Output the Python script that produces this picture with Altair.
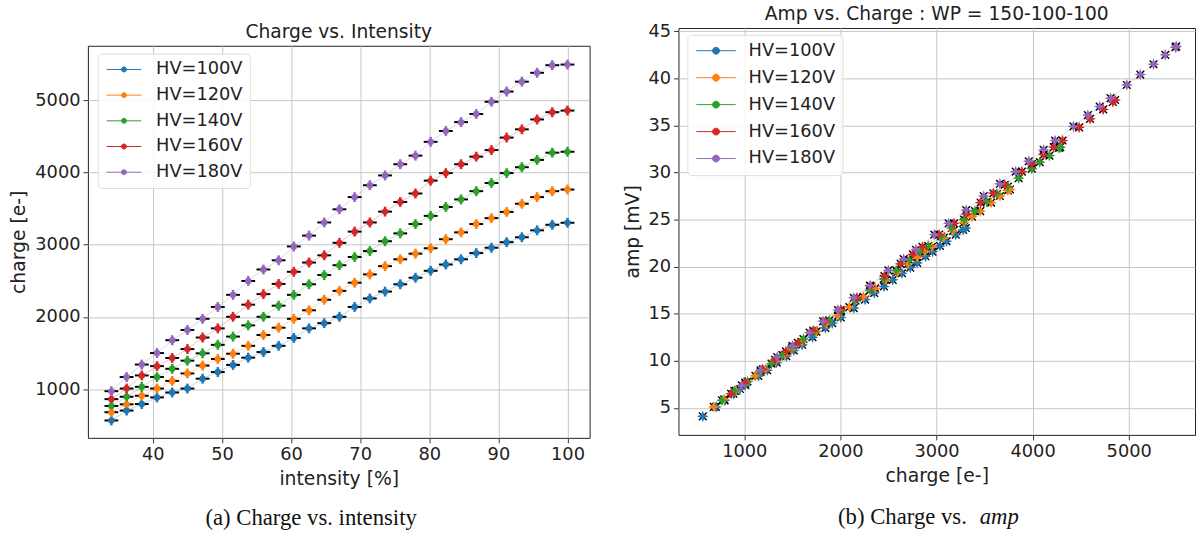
import altair as alt
import pandas as pd

series = ["HV=100V", "HV=120V", "HV=140V", "HV=160V", "HV=180V"]
colors = ["#1f77b4", "#ff7f0e", "#2ca02c", "#d62728", "#9467bd"]

intensity = [34.0, 36.2, 38.4, 40.6, 42.8, 45.0, 47.2, 49.4, 51.6, 53.8, 56.0,
             58.2, 60.4, 62.6, 64.8, 67.0, 69.2, 71.4, 73.6, 75.8, 78.0, 80.2,
             82.4, 84.6, 86.8, 89.0, 91.2, 93.4, 95.6, 97.8, 100.0]

charge_100 = [568, 705, 795, 887, 955, 1010, 1146, 1238, 1337, 1437, 1515, 1601,
              1710, 1843, 1915, 2003, 2139, 2257, 2352, 2453, 2544, 2640, 2727,
              2799, 2885, 2959, 3036, 3104, 3200, 3277, 3305]
charge_120 = [682, 791, 910, 1010, 1115, 1219, 1328, 1419, 1492, 1601, 1751, 1852,
              1975, 2093, 2239, 2362, 2475, 2590, 2704, 2799, 2877, 2952, 3077,
              3172, 3287, 3369, 3455, 3568, 3660, 3742, 3765]
charge_140 = [768, 896, 1033, 1169, 1283, 1396, 1497, 1615, 1729, 1884, 2003, 2157,
              2307, 2453, 2581, 2717, 2831, 2913, 3049, 3158, 3287, 3400, 3523,
              3628, 3742, 3855, 3992, 4074, 4175, 4275, 4288]
charge_160 = [863, 1010, 1191, 1320, 1433, 1556, 1716, 1843, 2003, 2171, 2317, 2458,
              2626, 2754, 2854, 3027, 3182, 3309, 3459, 3592, 3710, 3888, 3992,
              4115, 4220, 4311, 4484, 4598, 4735, 4835, 4858]
charge_180 = [973, 1169, 1342, 1501, 1679, 1820, 1975, 2139, 2307, 2499, 2658, 2785,
              2977, 3127, 3309, 3491, 3660, 3824, 3960, 4115, 4234, 4425, 4575,
              4698, 4811, 4980, 5121, 5258, 5381, 5486, 5495]

amp_100 = [4.1, 5.1, 5.8, 6.5, 7.0, 7.4, 8.4, 9.0, 9.8, 10.5, 11.1, 11.7, 12.5,
           13.5, 14.0, 14.6, 15.6, 16.5, 17.2, 17.9, 18.6, 19.3, 19.9, 20.4, 21.1,
           21.6, 22.2, 22.7, 23.4, 23.9, 24.1]
amp_120 = [5.1, 5.9, 6.8, 7.6, 8.4, 9.1, 10.0, 10.6, 11.2, 12.0, 13.1, 13.9, 14.8,
           15.7, 16.8, 17.7, 18.6, 19.4, 20.3, 21.0, 21.6, 22.1, 23.1, 23.8, 24.7,
           25.3, 25.9, 26.8, 27.5, 28.1, 28.2]
amp_140 = [5.8, 6.8, 7.8, 8.8, 9.7, 10.6, 11.4, 12.3, 13.1, 14.3, 15.2, 16.4, 17.5,
           18.7, 19.6, 20.7, 21.6, 22.2, 23.2, 24.1, 25.0, 25.9, 26.9, 27.7, 28.5,
           29.4, 30.4, 31.1, 31.8, 32.6, 32.7]
amp_160 = [6.5, 7.7, 9.1, 10.1, 11.0, 11.9, 13.2, 14.2, 15.4, 16.7, 17.9, 19.0, 20.3,
           21.3, 22.1, 23.4, 24.6, 25.6, 26.8, 27.8, 28.7, 30.1, 30.9, 31.9, 32.7,
           33.4, 34.8, 35.7, 36.7, 37.5, 37.7]
amp_180 = [7.4, 9.0, 10.4, 11.6, 13.0, 14.2, 15.4, 16.7, 18.0, 19.6, 20.8, 21.8, 23.4,
           24.6, 26.0, 27.5, 28.8, 30.1, 31.2, 32.4, 33.4, 34.9, 36.1, 37.0, 37.9,
           39.3, 40.4, 41.5, 42.5, 43.3, 43.4]

intensity_ticks = [40, 50, 60, 70, 80, 90, 100]
charge_ticks = [1000, 2000, 3000, 4000, 5000]
amp_ticks = [5, 10, 15, 20, 25, 30, 35, 40, 45]

title_a = "Charge vs. Intensity"
title_b = "Amp vs. Charge : WP = 150-100-100"
caption_a = "(a) Charge vs. intensity"
caption_b1 = "(b) Charge vs."
caption_b2 = "amp"

charges = [charge_100, charge_120, charge_140, charge_160, charge_180]
amps = [amp_100, amp_120, amp_140, amp_160, amp_180]
rows = []
for s, ch, am in zip(series, charges, amps):
    for i in range(len(intensity)):
        rows.append({"hv": s, "intensity": intensity[i], "charge": ch[i], "amp": am[i]})
df = pd.DataFrame(rows)

FONT = "DejaVu Sans"
SERIF = "Liberation Serif"
TITLE_SIZE = 18.9


def make_legend(lx, ly, path, offset, rowpad):
    return alt.Legend(title=None, orient="none", legendX=lx, legendY=ly,
                      symbolType=path, symbolSize=196, symbolStrokeColor="#c9d2dc",
                      symbolStrokeWidth=1, symbolOpacity=1,
                      labelFont=FONT, labelFontSize=18, labelColor="#222222",
                      labelOffset=offset, rowPadding=rowpad, padding=7,
                      fillColor="rgba(255,255,255,0.85)", strokeColor="#dddddd",
                      cornerRadius=4)


def color_enc(leg):
    return alt.Color("hv:N", scale=alt.Scale(domain=series, range=colors),
                     sort=series, legend=leg)


# legend symbol paths: a line with a dot in its middle (unit = 7 px)
path_a = "M-1,0L4,0M1.86,0A0.36,0.36,0,1,1,1.14,0A0.36,0.36,0,1,1,1.86,0Z"
path_b = "M-1,0L4.71,0M2.36,0A0.5,0.5,0,1,1,1.36,0A0.5,0.5,0,1,1,2.36,0Z"
# the left legend is placed relative to the left column (title strip + panel)
leg_a = make_legend(10, 26, path_a, 34, 8.0)
leg_b = make_legend(9, 7, path_b, 37, 9.3)

# ---------------- left panel ----------------
WL, HL = 508, 397
xl = alt.X("intensity:Q", scale=alt.Scale(domain=[30.6, 103.2], nice=False, zero=False),
           axis=alt.Axis(values=intensity_ticks, title="intensity [%]", format="d"))
yl = alt.Y("charge:Q", scale=alt.Scale(domain=[327, 5755], nice=False, zero=False),
           axis=alt.Axis(values=charge_ticks, title="charge [e-]", format="d"))
base_l = alt.Chart(df).encode(x=xl, y=yl)

line_l = base_l.mark_line(strokeWidth=1, opacity=0.3).encode(color=color_enc(leg_a))
dash_l = base_l.mark_point(shape="M-1,0L1,0", filled=False, color="black",
                           strokeWidth=2, size=196, opacity=1)
vbar_l = base_l.mark_point(shape="M0,-1L0,1", filled=False, strokeWidth=2.5,
                           size=100, opacity=1).encode(color=color_enc(leg_a))
dot_l = base_l.mark_point(shape="circle", filled=True, size=42, opacity=1).encode(
    color=color_enc(leg_a))
cap_a = alt.Chart(pd.DataFrame({"t": [caption_a]})).mark_text(
    font=SERIF, fontSize=23, color="#111111", align="center", baseline="alphabetic"
).encode(text="t:N", x=alt.value(226), y=alt.value(485))

left = alt.layer(line_l, dash_l, vbar_l, dot_l, cap_a).properties(width=WL, height=HL)

# title strip above the left panel (the left plot sits lower than the right one)
title_strip = alt.Chart(pd.DataFrame({"t": [title_a]})).mark_text(
    font=FONT, fontSize=TITLE_SIZE, color="#222222", align="center", baseline="middle"
).encode(text="t:N", x=alt.value(WL / 2), y=alt.value(4)).properties(
    width=WL, height=16, view=alt.ViewBackground(stroke="transparent"))

left_wrapped = alt.vconcat(title_strip, left, spacing=0)

# ---------------- right panel ----------------
WR, HR = 523, 412
xr = alt.X("charge:Q", scale=alt.Scale(domain=[315, 5690], nice=False, zero=False),
           axis=alt.Axis(values=charge_ticks, title="charge [e-]", format="d"))
yr = alt.Y("amp:Q", scale=alt.Scale(domain=[2.13, 45.35], nice=False, zero=False),
           axis=alt.Axis(values=amp_ticks, title="amp [mV]", format="d"))
base_r = alt.Chart(df).encode(x=xr, y=yr)

star = "M0,-1L0.28,-0.28L1,0L0.28,0.28L0,1L-0.28,0.28L-1,0L-0.28,-0.28Z"
line_r = base_r.mark_line(strokeWidth=1, opacity=0.25).encode(color=color_enc(leg_b))
xmark_r = base_r.mark_point(shape="M-1,-1L1,1M-1,1L1,-1", filled=False, color="black",
                            strokeWidth=1.4, size=60, opacity=1)
star_r = base_r.mark_point(shape=star, filled=True, size=140, opacity=1).encode(
    color=color_enc(leg_b))
cap_b1 = alt.Chart(pd.DataFrame({"t": [caption_b1]})).mark_text(
    font=SERIF, fontSize=23, color="#111111", align="right", baseline="alphabetic"
).encode(text="t:N", x=alt.value(292), y=alt.value(502))
cap_b2 = alt.Chart(pd.DataFrame({"t": [caption_b2]})).mark_text(
    font=SERIF, fontSize=23, fontStyle="italic", color="#111111", align="left",
    baseline="alphabetic"
).encode(text="t:N", x=alt.value(305), y=alt.value(502))

right = alt.layer(line_r, xmark_r, star_r, cap_b1, cap_b2).properties(
    width=WR, height=HR,
    title=alt.TitleParams(title_b, font=FONT, fontSize=TITLE_SIZE, fontWeight="normal",
                          color="#222222", offset=-1))

chart = alt.hconcat(left_wrapped, right, spacing=32).resolve_scale(
    color="independent").resolve_legend(color="independent").properties(
    padding={"left": 9, "top": 0, "right": 0, "bottom": 0},
    background="white"
).configure_view(
    stroke="#222222", strokeWidth=1
).configure_axis(
    labelFont=FONT, labelFontSize=18, labelColor="#222222",
    titleFont=FONT, titleFontSize=19, titleFontWeight="normal", titleColor="#222222",
    grid=True, gridColor="#c6c6c6", gridWidth=1,
    domain=False, tickColor="#333333", tickSize=5, tickWidth=1,
    labelPadding=3, titlePadding=6
).configure_title(anchor="middle")

chart.save("out.html", embed_options={"renderer": "svg", "actions": False})
